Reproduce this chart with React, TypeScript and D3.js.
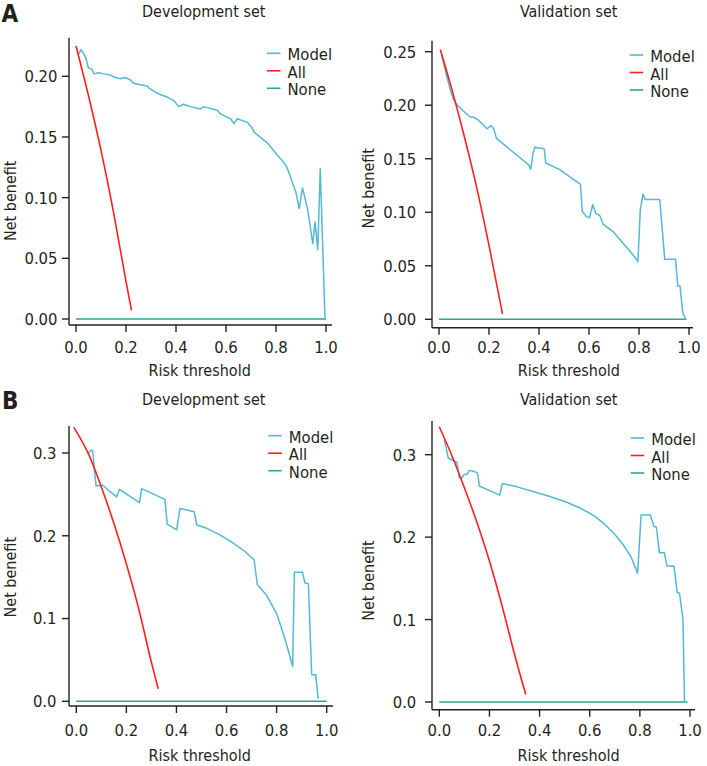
import * as d3 from 'd3';
import React from 'react';

type Pt = [number, number];

// labels and ticks
const legendLabels = ['Model', 'All', 'None'];
const setTitles = ['Development set', 'Validation set'];
const panelLetters = ['A', 'B'];
const xTicks = [0, 0.2, 0.4, 0.6, 0.8, 1.0];
const aDevYTicks = [0, 0.05, 0.1, 0.15, 0.2];
const aValYTicks = [0, 0.05, 0.1, 0.15, 0.2, 0.25];
const bYTicks = [0, 0.1, 0.2, 0.3];

// panel A, development set
const aDevModel: Pt[] = [
  [0.01, 0.218], [0.02, 0.222], [0.029, 0.219], [0.04, 0.215], [0.049, 0.207], [0.063, 0.206],
  [0.072, 0.202], [0.09, 0.203], [0.11, 0.202], [0.137, 0.201], [0.157, 0.199], [0.177, 0.198],
  [0.197, 0.199], [0.217, 0.197], [0.233, 0.194], [0.257, 0.193], [0.284, 0.192], [0.294, 0.19],
  [0.317, 0.187], [0.337, 0.185], [0.364, 0.183], [0.391, 0.18], [0.411, 0.175], [0.431, 0.177],
  [0.458, 0.175], [0.498, 0.173], [0.511, 0.175], [0.565, 0.172], [0.578, 0.169], [0.618, 0.165],
  [0.632, 0.161], [0.645, 0.165], [0.686, 0.162], [0.706, 0.157], [0.712, 0.154], [0.766, 0.145],
  [0.806, 0.135], [0.839, 0.127], [0.853, 0.12], [0.87, 0.11], [0.88, 0.104], [0.893, 0.091],
  [0.906, 0.108], [0.927, 0.09], [0.947, 0.062], [0.956, 0.08], [0.967, 0.057], [0.977, 0.124],
  [0.996, 0.0],
];
const aDevAll: Pt[] = [[0, 0.225], [0.05, 0.184], [0.1, 0.139], [0.15, 0.088], [0.2, 0.031], [0.222, 0.007]];
const aDevNone: Pt[] = [[0, 0], [1, 0]];

// panel A, validation set
const aValModel: Pt[] = [
  [0.01, 0.247], [0.03, 0.228], [0.047, 0.213], [0.058, 0.205], [0.078, 0.199], [0.105, 0.193],
  [0.125, 0.189], [0.138, 0.189], [0.158, 0.186], [0.192, 0.178], [0.208, 0.181], [0.219, 0.178],
  [0.23, 0.169], [0.36, 0.144], [0.367, 0.14], [0.376, 0.155], [0.384, 0.161], [0.394, 0.16],
  [0.407, 0.16], [0.421, 0.159], [0.427, 0.146], [0.481, 0.14], [0.566, 0.126], [0.573, 0.101],
  [0.589, 0.096], [0.602, 0.095], [0.615, 0.107], [0.627, 0.099], [0.643, 0.097], [0.656, 0.089],
  [0.696, 0.082], [0.736, 0.071], [0.77, 0.062], [0.796, 0.054], [0.805, 0.102], [0.816, 0.117],
  [0.825, 0.112], [0.883, 0.112], [0.903, 0.056], [0.946, 0.056], [0.955, 0.031], [0.964, 0.031],
  [0.975, 0.006], [0.987, 0.0],
];
const aValAll: Pt[] = [[0.005, 0.252], [0.05, 0.216], [0.1, 0.172], [0.15, 0.124], [0.2, 0.069], [0.254, 0.005]];
const aValNone: Pt[] = [[0, 0], [0.99, 0]];

// panel B, development set
const bDevModel: Pt[] = [
  [0.048, 0.3], [0.058, 0.303], [0.065, 0.303], [0.079, 0.26], [0.105, 0.261], [0.161, 0.247],
  [0.172, 0.256], [0.252, 0.24], [0.261, 0.257], [0.354, 0.244], [0.363, 0.214], [0.401, 0.207],
  [0.414, 0.233], [0.471, 0.229], [0.481, 0.213], [0.521, 0.209], [0.574, 0.201], [0.627, 0.191],
  [0.674, 0.181], [0.71, 0.171], [0.723, 0.141], [0.76, 0.128], [0.8, 0.106], [0.833, 0.076],
  [0.864, 0.042], [0.871, 0.156], [0.903, 0.156], [0.913, 0.143], [0.927, 0.142], [0.94, 0.032],
  [0.956, 0.032], [0.966, 0.003],
];
const bDevAll: Pt[] = [
  [-0.01, 0.331], [0.05, 0.298], [0.1, 0.259], [0.15, 0.215], [0.2, 0.166], [0.25, 0.111], [0.3, 0.047], [0.327, 0.015],
];
const bDevNone: Pt[] = [[0, 0], [1, 0]];

// panel B, validation set
const bValModel: Pt[] = [
  [0.02, 0.318], [0.036, 0.296], [0.056, 0.293], [0.07, 0.291], [0.08, 0.272], [0.09, 0.272],
  [0.099, 0.276], [0.11, 0.276], [0.12, 0.281], [0.136, 0.28], [0.152, 0.278], [0.16, 0.262],
  [0.241, 0.251], [0.251, 0.265], [0.31, 0.261], [0.377, 0.255], [0.444, 0.249], [0.511, 0.242],
  [0.564, 0.235], [0.617, 0.226], [0.658, 0.216], [0.698, 0.204], [0.731, 0.192], [0.765, 0.176],
  [0.791, 0.156], [0.805, 0.227], [0.842, 0.227], [0.856, 0.213], [0.866, 0.212], [0.878, 0.181],
  [0.898, 0.181], [0.908, 0.165], [0.936, 0.165], [0.949, 0.133], [0.958, 0.132], [0.972, 0.1],
  [0.978, 0.0],
];
const bValAll: Pt[] = [
  [0, 0.334], [0.05, 0.299], [0.1, 0.26], [0.15, 0.218], [0.2, 0.171], [0.25, 0.117], [0.3, 0.058], [0.345, 0.009],
];
const bValNone: Pt[] = [[0, 0], [0.99, 0]];

const MODEL_COLOR = '#52b9d6';
const ALL_COLOR = '#ff1f1f';
const NONE_COLOR = '#2ea68e';
const TEXT_COLOR = '#231f20';
const FONT = '"DejaVu Sans Condensed", "DejaVu Sans", sans-serif';

interface Layout {
  x0: number; x1: number; y0: number; yRef: number; yRefVal: number;
  left: number; bottom: number; top: number; right: number;
  yLabelX: number; xTickY: number; xTitleX: number; xTitleY: number;
  yTitleX: number; yTitleY: number; titleX: number; titleY: number;
  legX: number; legY: number;
}

interface IPanel {
  lay: Layout;
  model: Pt[];
  all: Pt[];
  none: Pt[];
  yTicks: number[];
  fmt: string;
  title: string;
}

const Panel: React.FC<IPanel> = ({ lay, model, all, none, yTicks, fmt, title }) => {
  const x = d3.scaleLinear().domain([0, 1]).range([lay.x0, lay.x1]);
  const y = d3.scaleLinear().domain([0, lay.yRefVal]).range([lay.y0, lay.yRef]);
  const line = d3.line<Pt>().x(d => x(d[0])).y(d => y(d[1]));
  const smooth = d3.line<Pt>().x(d => x(d[0])).y(d => y(d[1])).curve(d3.curveMonotoneX);
  const f = d3.format(fmt);
  const colors = [MODEL_COLOR, ALL_COLOR, NONE_COLOR];

  return (
    <g fontFamily={FONT} fill={TEXT_COLOR}>
      <text x={lay.titleX} y={lay.titleY} textAnchor="middle" fontSize={16}>{title}</text>

      <path d={line(none) || ''} stroke={NONE_COLOR} strokeWidth={1.6} fill="none" />
      <path d={line(model) || ''} stroke={MODEL_COLOR} strokeWidth={1.5} fill="none" strokeLinejoin="round" />
      <path d={smooth(all) || ''} stroke={ALL_COLOR} strokeWidth={1.6} fill="none" />

      <line x1={lay.left} x2={lay.left} y1={lay.top} y2={lay.bottom} stroke="#222" strokeWidth={1.4} />
      <line x1={lay.left} x2={lay.right} y1={lay.bottom} y2={lay.bottom} stroke="#222" strokeWidth={1.4} />

      {yTicks.map(t => (
        <g key={`y${t}`}>
          <line x1={lay.left - 7} x2={lay.left} y1={y(t)} y2={y(t)} stroke="#222" strokeWidth={1.4} />
          <text x={lay.yLabelX} y={y(t)} dy="0.36em" textAnchor="end" fontSize={16.5}>{f(t)}</text>
        </g>
      ))}
      {xTicks.map(t => (
        <g key={`x${t}`}>
          <line x1={x(t)} x2={x(t)} y1={lay.bottom} y2={lay.bottom + 7} stroke="#222" strokeWidth={1.4} />
          <text x={x(t)} y={lay.xTickY} textAnchor="middle" fontSize={16.5}>{d3.format('.1f')(t)}</text>
        </g>
      ))}

      <text x={lay.xTitleX} y={lay.xTitleY} textAnchor="middle" fontSize={16}>Risk threshold</text>
      <text transform={`translate(${lay.yTitleX},${lay.yTitleY}) rotate(-90)`} textAnchor="middle" fontSize={16}>
        Net benefit
      </text>

      {legendLabels.map((lab, i) => (
        <g key={lab}>
          <line x1={lay.legX} x2={lay.legX + 13.5} y1={lay.legY + i * 17.5} y2={lay.legY + i * 17.5}
            stroke={colors[i]} strokeWidth={1.6} />
          <text x={lay.legX + 20.5} y={lay.legY + i * 17.5 + 7} fontSize={16.5}>{lab}</text>
        </g>
      ))}
    </g>
  );
};

const layAD: Layout = {
  x0: 76, x1: 326, y0: 319, yRef: 76.3, yRefVal: 0.2, left: 69, bottom: 325, top: 37.7, right: 332,
  yLabelX: 57.5, xTickY: 353.3, xTitleX: 199.7, xTitleY: 376, yTitleX: 15.5, yTitleY: 200.8,
  titleX: 203.7, titleY: 17.3, legX: 267, legY: 53.3,
};
const layAV: Layout = {
  x0: 439, x1: 689, y0: 319.3, yRef: 51.7, yRefVal: 0.25, left: 432, bottom: 327.7, top: 40.7, right: 693,
  yLabelX: 416.3, xTickY: 353.3, xTitleX: 568.8, xTitleY: 376, yTitleX: 373.5, yTitleY: 188.3,
  titleX: 568.7, titleY: 17.3, legX: 629.7, legY: 55,
};
const layBD: Layout = {
  x0: 76.3, x1: 326.7, y0: 701.3, yRef: 453, yRefVal: 0.3, left: 69, bottom: 706, top: 426, right: 333,
  yLabelX: 56.5, xTickY: 735.7, xTitleX: 199.7, xTitleY: 760.7, yTitleX: 16, yTitleY: 577.2,
  titleX: 203.7, titleY: 404.7, legX: 268.3, legY: 435.7,
};
const layBV: Layout = {
  x0: 439.3, x1: 690, y0: 702, yRef: 454.7, yRefVal: 0.3, left: 432, bottom: 709.7, top: 421, right: 695,
  yLabelX: 416.3, xTickY: 736.3, xTitleX: 568.5, xTitleY: 760.7, yTitleX: 373.5, yTitleY: 580.5,
  titleX: 568.7, titleY: 404.7, legX: 630.7, legY: 438,
};

export default function App() {
  return (
    <svg width={707} height={766} viewBox="0 0 707 766"
      style={{ position: 'absolute', left: 0, top: 0, display: 'block', background: '#fff' }}>
      <rect width={707} height={766} fill="#fff" />
      <Panel lay={layAD} model={aDevModel} all={aDevAll} none={aDevNone} yTicks={aDevYTicks} fmt=".2f" title={setTitles[0]} />
      <Panel lay={layAV} model={aValModel} all={aValAll} none={aValNone} yTicks={aValYTicks} fmt=".2f" title={setTitles[1]} />
      <Panel lay={layBD} model={bDevModel} all={bDevAll} none={bDevNone} yTicks={bYTicks} fmt=".1f" title={setTitles[0]} />
      <Panel lay={layBV} model={bValModel} all={bValAll} none={bValNone} yTicks={bYTicks} fmt=".1f" title={setTitles[1]} />
      <text x={1.5} y={21.5} fontFamily={FONT} fontWeight="bold" fontSize={24} fill={TEXT_COLOR}>{panelLetters[0]}</text>
      <text x={2} y={409} fontFamily={FONT} fontWeight="bold" fontSize={24} fill={TEXT_COLOR}>{panelLetters[1]}</text>
    </svg>
  );
}
